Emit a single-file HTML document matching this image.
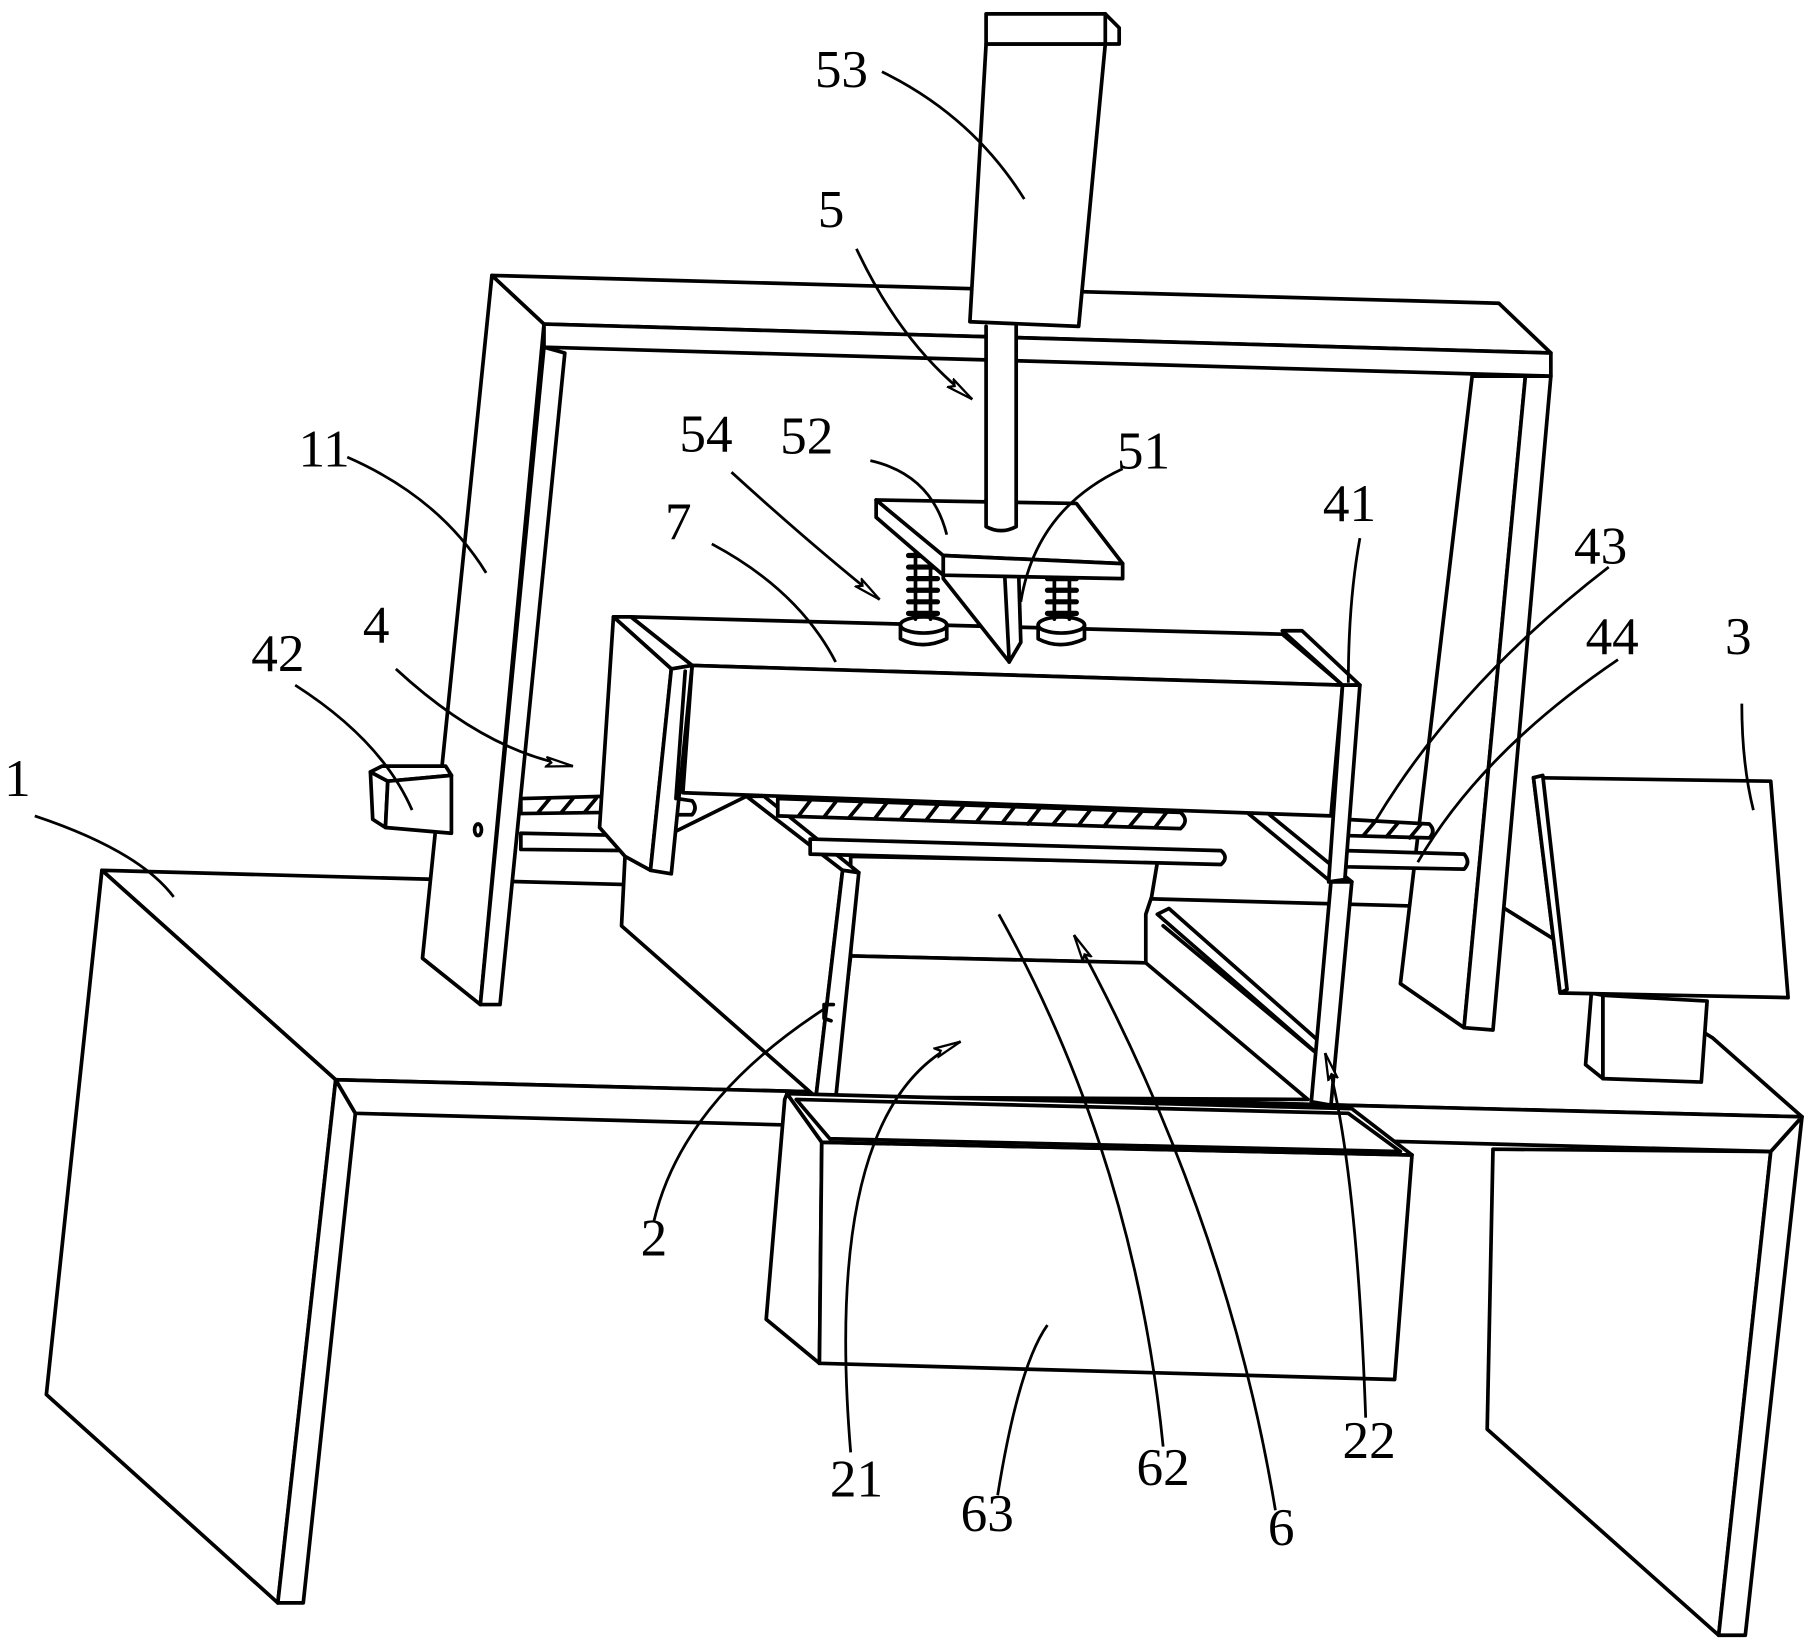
<!DOCTYPE html>
<html><head><meta charset="utf-8"><style>
html,body{margin:0;padding:0;background:#fff;}
svg{display:block}
text{font-family:"Liberation Serif","Noto Serif CJK SC",serif;font-size:46px;fill:#000}
</style></head><body>
<svg width="1809" height="1648" viewBox="0 0 1563 1424" xmlns="http://www.w3.org/2000/svg">
<defs>
<marker id="ar" markerWidth="26" markerHeight="12" refX="24" refY="6" orient="auto" markerUnits="userSpaceOnUse">
<path d="M1,2 L24,6 L1,10 L5,6 z" fill="#fff" stroke="#000" stroke-width="2"/>
</marker>
</defs>
<g fill="#fff" stroke="#000" stroke-width="3.2" stroke-linejoin="round" stroke-linecap="round">
<polygon points="88,752 1300,785 1480,897 1557,965 290,933"/>
<polygon points="88,752 40,1205 240,1385 290,933"/>
<polygon points="290,933 307,962 262,1385 240,1385"/>
<polygon points="1290,993 1530,995 1485,1413 1285,1235"/>
<polygon points="1530,995 1557,965 1508,1413 1485,1413"/>
<polygon points="290,933 1557,965 1530,995 307,962"/>
<polygon points="1272,325 1318,325 1265,888 1210,850"/>
<polygon points="1318,325 1340,325 1290,890 1265,888"/>
<polygon points="425,238 470,280 415,868 365,828"/>
<polygon points="470,300 488,305 432,868 415,868"/>
<polygon points="425,238 1295,262 1340,305 470,280"/>
<polygon points="470,280 1340,305 1340,325 470,300"/>
<ellipse cx="413" cy="717" rx="3" ry="5"/>
<polygon points="852,38 955,38 932,282 838,278"/>
<polygon points="852,12 955,12 967,24 967,38 852,38"/>
<line x1="955" y1="12" x2="955" y2="38"/>
<path d="M852,282 L852,455 Q865,462 878,455 L878,282"/>
<polygon points="1375,858 1385,860 1385,932 1370,920"/>
<polygon points="1385,860 1475,865 1470,935 1385,932"/>
<polygon points="1325,672 1530,675 1545,862 1348,858"/>
<polygon points="1325,672 1333,670 1354,855 1348,858"/>
<polygon points="320,667 335,675 333,715 322,708"/>
<polygon points="320,667 330,662 385,662 390,670 335,675"/>
<polygon points="335,675 390,670 390,720 333,715"/>
<path d="M450,690 L525,688 Q532,695 525,702 L450,703 z"/>
<path d="M465,702 L475,690 M485,702 L495,690 M505,702 L515,690" fill="none"/>
<path d="M450,720 L545,722 Q552,729 545,735 L450,734 z"/>
<path d="M585,718 L625,720 Q632,727 625,733 L585,732 z"/>
<path d="M585,690 L598,692 Q603,698 598,704 L585,704 z"/>
<path d="M1163,708 L1235,712 Q1241,718 1235,724 L1163,722 z"/>
<path d="M1178,722 L1188,710 M1198,723 L1208,711 M1218,724 L1228,712" fill="none"/>
<path d="M1163,735 L1265,738 Q1271,745 1265,751 L1163,749 z"/>
<polygon points="735,740 1000,745 995,775 990,790 990,832 735,826"/>
<polygon points="735,826 990,832 1130,950 720,948"/>
<polygon points="1000,790 1010,785 1140,900 1140,912"/>
<line x1="1005" y1="800" x2="1135" y2="908"/>
<polygon points="540,740 645,688 728,752 705,948 537,800"/>
<polygon points="645,688 660,688 742,754 728,752"/>
<polygon points="728,752 742,754 722,950 705,948"/>
<path d="M720,868 L712,868 L712,880 L718,882" fill="none"/>
<polygon points="1075,700 1092,700 1168,762 1150,762"/>
<polygon points="1150,762 1168,762 1150,955 1133,952"/>
<path d="M672,690 L1020,702 Q1028,709 1020,716 L672,705 z"/>
<g fill="none">
<path d="M690,705 L700,692 M712,706 L722,693 M734,706 L744,694 M756,707 L766,694 M778,708 L788,695 M800,709 L810,696 M822,709 L832,697 M844,710 L854,697 M866,711 L876,698 M888,712 L898,699 M910,712 L920,700 M932,713 L942,700 M954,714 L964,701 M976,714 L986,702 M998,715 L1008,702"/>
</g>
<path d="M700,725 L1055,735 Q1062,741 1055,747 L700,738 z"/>
<polygon points="545,533 1108,548 1160,592 598,575"/>
<polygon points="598,575 1160,592 1150,705 590,685"/>
<polygon points="530,533 545,533 598,575 580,578"/>
<polygon points="530,533 580,578 562,752 540,740 518,715"/>
<polygon points="580,578 598,575 580,755 562,752"/>
<line x1="592" y1="580" x2="584" y2="690"/>
<polygon points="1108,545 1125,545 1175,592 1160,592"/>
<polygon points="1160,592 1175,592 1162,760 1148,762"/>
<path d="M778,540 L778,552 Q797,562 818,552 L818,540" />
<ellipse cx="798" cy="540" rx="20" ry="7"/>
<path d="M897,540 L897,552 Q916,562 937,552 L937,540"/>
<ellipse cx="917" cy="540" rx="20" ry="7"/>
<g fill="none" stroke-width="4.5">
<path d="M785,480 h25 M785,490 h25 M785,500 h25 M785,510 h25 M785,520 h25 M785,530 h25"/>
<path d="M905,500 h25 M905,510 h25 M905,520 h25 M905,530 h25"/>
</g>
<line x1="791" y1="470" x2="791" y2="535"/><line x1="804" y1="470" x2="804" y2="535"/>
<line x1="911" y1="495" x2="911" y2="535"/><line x1="924" y1="495" x2="924" y2="535"/>
<polygon points="815,490 880,490 882,555 872,572 815,500"/>
<line x1="868" y1="495" x2="872" y2="572"/>
<polygon points="757,432 815,480 815,497 757,447"/>
<polygon points="757,432 930,435 970,487 815,480"/>
<polygon points="815,480 970,487 970,500 815,497"/>
<path d="M852,432 L852,455 Q865,462 878,455 L878,432" />
<polygon points="680,945 710,987 708,1178 662,1140 678,950"/>
<polygon points="710,987 1220,998 1205,1192 708,1178"/>
<polygon points="680,945 1168,958 1220,998 710,987"/>
<polygon points="688,950 1165,962 1210,995 717,984"/>
</g>
<g fill="none" stroke="#000" stroke-width="2.4">
<path d="M762,62 Q840,100 885,172"/>
<path d="M740,215 Q780,300 840,345" marker-end="url(#ar)"/>
<path d="M300,395 Q380,430 420,495"/>
<path d="M632,408 Q700,470 760,518" marker-end="url(#ar)"/>
<path d="M752,398 Q805,410 818,462"/>
<path d="M970,405 Q895,440 882,520"/>
<path d="M615,470 Q690,510 722,572"/>
<path d="M1175,465 Q1165,520 1165,590"/>
<path d="M1390,490 Q1260,590 1188,710"/>
<path d="M1398,570 Q1280,650 1225,745"/>
<path d="M1505,608 Q1505,660 1515,700"/>
<path d="M255,592 Q330,640 356,700"/>
<path d="M342,578 Q420,650 495,662" marker-end="url(#ar)"/>
<path d="M30,705 Q120,735 150,775"/>
<path d="M565,1055 Q590,950 715,870"/>
<path d="M735,1255 Q710,955 830,900" marker-end="url(#ar)"/>
<path d="M1005,1250 Q980,1000 863,790"/>
<path d="M1102,1305 Q1060,1050 928,808" marker-end="url(#ar)"/>
<path d="M1180,1225 Q1172,1000 1145,910" marker-end="url(#ar)"/>
<path d="M862,1292 Q880,1180 905,1145"/>
</g>
<g text-anchor="middle">
<text x="727" y="75">53</text>
<text x="718" y="196">5</text>
<text x="280" y="403">11</text>
<text x="610" y="390">54</text>
<text x="697" y="392">52</text>
<text x="988" y="405">51</text>
<text x="586" y="466">7</text>
<text x="1166" y="450">41</text>
<text x="1383" y="487">43</text>
<text x="1393" y="565">44</text>
<text x="1502" y="565">3</text>
<text x="240" y="580">42</text>
<text x="325" y="555">4</text>
<text x="15" y="688">1</text>
<text x="565" y="1085">2</text>
<text x="740" y="1293">21</text>
<text x="853" y="1323">63</text>
<text x="1005" y="1283">62</text>
<text x="1107" y="1335">6</text>
<text x="1183" y="1260">22</text>
</g>
</svg>
</body></html>
